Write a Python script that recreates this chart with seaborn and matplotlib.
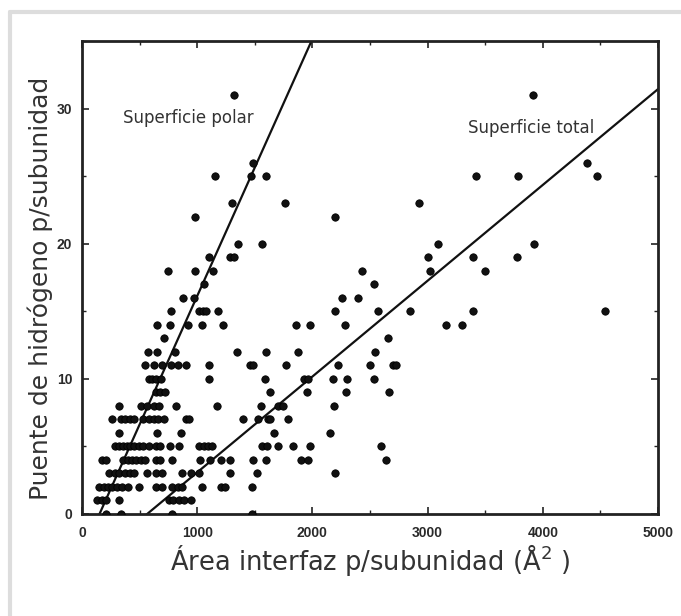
import matplotlib
matplotlib.use("Agg")
import matplotlib.pyplot as plt
import seaborn as sns
import pandas as pd
from matplotlib.ticker import MultipleLocator
from matplotlib.lines import Line2D

# ---- data: (hydrogen bonds per subunit, interface area per subunit) ----
hb_31 = [1321, 3917]
hb_26 = [1483, 4385]
hb_25 = [1158, 1468, 1600, 3423, 3785, 4472]
hb_23 = [1306, 1762, 2925]
hb_22 = [981, 2192]
hb_20 = [1351, 1566, 3087, 3928]
hb_19 = [1106, 1283, 1321, 3000, 3392, 3777]
hb_18 = [747, 981, 1140, 2434, 3019, 3502]
hb_17 = [1057, 2536]
hb_16 = [875, 970, 2253, 2396]
hb_15 = [774, 1019, 1049, 1079, 1177, 2196, 2566, 2845, 3392, 4543]
hb_14 = [653, 766, 917, 1045, 1226, 1860, 1977, 2287, 3162, 3298]
hb_13 = [709, 2653]
hb_12 = [570, 649, 804, 1347, 1596, 1875, 2547]
hb_11 = [551, 623, 698, 774, 834, 906, 1106, 1457, 1487, 1774, 2226, 2502, 2698, 2728]
hb_10 = [581, 604, 642, 687, 1102, 1592, 1925, 1962, 2177, 2298, 2536]
hb_9 = [642, 679, 721, 1634, 1955, 2291, 2668]
hb_8 = [321, 509, 566, 623, 672, 819, 1170, 1558, 1698, 1743, 2189]
hb_7 = [264, 340, 377, 415, 453, 528, 585, 623, 660, 709, 906, 932, 1396, 1528,
        1611, 1634, 1785]
hb_6 = [321, 649, 857, 1668, 2155]
hb_5 = [283, 321, 358, 389, 415, 453, 491, 528, 585, 642, 679, 762, 838, 1019,
        1057, 1094, 1132, 1566, 1604, 1698, 1834, 1977, 2592]
hb_4 = [170, 208, 358, 396, 434, 472, 509, 547, 642, 679, 785, 1026, 1113, 1208,
        1283, 1483, 1596, 1902, 1962, 2642]
hb_3 = [238, 283, 321, 377, 415, 453, 566, 642, 698, 868, 943, 1019, 1283, 1521, 2200]
hb_2 = [151, 189, 226, 264, 302, 351, 396, 491, 642, 698, 785, 830, 868, 1038,
        1208, 1245, 1472]
hb_1 = [132, 170, 208, 321, 755, 792, 838, 887, 943]
hb_0 = [208, 340, 785, 1472]

rows = {31: hb_31, 26: hb_26, 25: hb_25, 23: hb_23, 22: hb_22, 20: hb_20,
        19: hb_19, 18: hb_18, 17: hb_17, 16: hb_16, 15: hb_15, 14: hb_14,
        13: hb_13, 12: hb_12, 11: hb_11, 10: hb_10, 9: hb_9, 8: hb_8, 7: hb_7,
        6: hb_6, 5: hb_5, 4: hb_4, 3: hb_3, 2: hb_2, 1: hb_1, 0: hb_0}

# regression lines: slope, intercept
polar_slope, polar_intercept = 0.01902, -2.89
total_slope, total_intercept = 0.00709, -4.01

x_ticks = [0, 1000, 2000, 3000, 4000, 5000]
y_ticks = [0, 10, 20, 30]

area = [a for hb, xs in rows.items() for a in xs]
hbonds = [hb for hb, xs in rows.items() for _ in xs]
df = pd.DataFrame({"area": area, "hb": hbonds})

sns.set_theme(style="white")
plt.rcParams["font.family"] = ["DejaVu Sans"]

fig = plt.figure(figsize=(6.81, 6.16), dpi=100)
ax = fig.add_axes([0.1204, 0.1656, 0.8458, 0.7678])

sns.scatterplot(data=df, x="area", y="hb", ax=ax, s=28, color="#111111",
                edgecolor="#000000", linewidth=0.6, legend=False, zorder=3)

xs_line = [0, 5000]
ax.plot(xs_line, [polar_slope * v + polar_intercept for v in xs_line],
        color="#111111", lw=1.6, zorder=2)
ax.plot(xs_line, [total_slope * v + total_intercept for v in xs_line],
        color="#111111", lw=1.6, zorder=2)

ax.set_xlim(0, 5000)
ax.set_ylim(0, 35)
ax.set_xticks(x_ticks)
ax.set_yticks(y_ticks)
ax.xaxis.set_minor_locator(MultipleLocator(500))
ax.yaxis.set_minor_locator(MultipleLocator(5))
ax.tick_params(which="both", direction="in", top=True, right=True,
               bottom=True, left=True, color="#222222")
ax.tick_params(which="major", length=5, width=1.2)
ax.tick_params(which="minor", length=3, width=1.0)
ax.tick_params(axis="x", which="major", pad=9)
ax.tick_params(axis="y", which="major", pad=7)
for lab in ax.get_xticklabels() + ax.get_yticklabels():
    lab.set_fontfamily("Liberation Sans")
    lab.set_fontweight("bold")
    lab.set_fontsize(10)
    lab.set_color("#2a2a2a")
for sp in ax.spines.values():
    sp.set_color("#222222")
    sp.set_linewidth(2.0)

ax.set_xlabel("Área interfaz p/subunidad (Å$^2$ )", fontsize=18.5, color="#333333",
              labelpad=1)
ax.set_ylabel("Puente de hidrógeno p/subunidad", fontsize=18, color="#333333")
ax.yaxis.set_label_coords(-0.05, 0.478)

ax.text(360, 29.3, "Superficie polar", fontsize=12, color="#333333",
        va="center", ha="left")
ax.text(3350, 28.6, "Superficie total", fontsize=12, color="#333333",
        va="center", ha="left")

# light grey frame of the scanned figure
fig.add_artist(Line2D([10 / 681, 10 / 681], [1 - 12 / 616, 0], color="#dddddd",
                      lw=3, transform=fig.transFigure))
fig.add_artist(Line2D([10 / 681, 1], [1 - 12 / 616, 1 - 12 / 616], color="#dddddd",
                      lw=3, transform=fig.transFigure))

fig.savefig("out.png", dpi=100)
